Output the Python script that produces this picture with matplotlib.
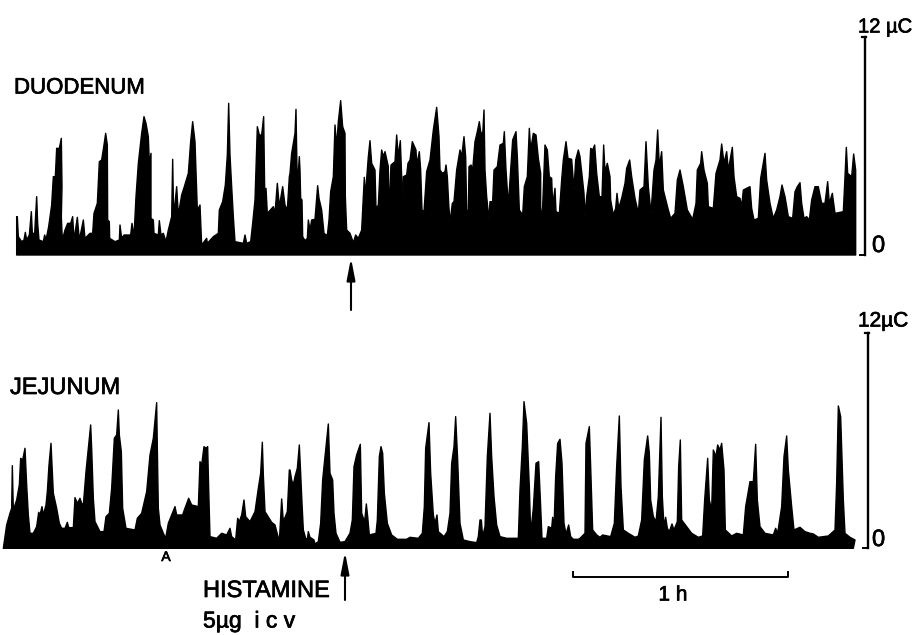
import numpy as np
from matplotlib import pyplot as plt
import matplotlib.patheffects as pe

plt.rcParams['font.family'] = ['Liberation Sans', 'DejaVu Sans']

# Readings off the chart paper: (position, deflection) in chart units.
# 645 position units = 1 h, one list per stretch of paper.
UNITS_PER_HOUR = 645
DUO_UNITS_12UC = 654
JEJ_UNITS_12UC = 645
OFFSET_B = 870
OFFSET_C = 1740

duo_a = [(50,0),(50,115),(52,115),(55,55),(65,40),(72,45),(76,68),(80,45),(88,60),(94,130),(97,65),(104,65),
         (110,175),(113,95),(117,45),(130,40),(134,60),(138,45),(146,85),(155,150),(160,235),(166,235),(170,320),
         (178,320),(184,350),(186,205),(184,115),(187,45),(195,75),(203,95),(212,95),(218,115),(222,45),(232,113),
         (238,45),(250,105),(255,50),(270,65),(278,65),(282,125),(292,155),(298,280),(305,285),(312,330),(317,365),
         (322,330),(323,105),(328,100),(329,50),(345,40),(358,45),(360,90),(365,50),(372,60),(392,60),(396,95),
         (402,55),(408,175),(415,275),(425,365),(432,415),(438,395),(445,355),(448,275),(453,305),(453,110),
         (460,105),(462,65),(475,60),(478,103),(483,60),(490,65),(498,40),(505,75),(515,115),(518,287),(521,115),
         (530,205),(535,120),(545,180),(553,205),(565,245),(572,340),(578,400),(585,340),(592,135),(600,150),
         (605,30),(620,50),(622,35),(640,55),(655,65),(658,135),(668,160),(676,210),(682,300),(686,455),(690,300),
         (695,205),(700,115),(705,40),(730,35),(735,60),(740,35),(752,40),(758,95),(765,165),(772,385),(778,360),
         (785,360),(791,415),(795,125),(798,200),(802,125),(820,145),(825,125),(832,215),(838,145),(848,205),
         (855,150),(862,135),(868,235)]
duo_b = [(0,245),(5,305),(15,365),(18,437),(20,315),(22,205),(28,295),(30,255),(32,170),(36,165),(38,55),(45,43),
         (52,50),(55,105),(60,75),(65,105),(75,107),(83,208),(87,170),(95,135),(102,65),(112,58),(117,105),(122,190),
         (130,235),(135,390),(140,325),(145,400),(152,463),(158,385),(165,365),(166,175),(170,75),(180,65),(190,37),
         (197,60),(205,50),(215,75),(220,175),(223,233),(226,175),(235,295),(240,343),(245,275),(255,255),(258,140),
         (265,150),(270,255),(275,315),(280,295),(285,310),(295,265),(295,115),(303,270),(315,280),(320,360),(325,295),
         (331,343),(335,235),(338,105),(340,235),(350,240),(354,275),(360,285),(367,340),(378,315),(380,270),(388,310),
         (392,255),(396,135),(402,130),(405,175),(410,250),(420,285),(430,375),(440,443),(447,355),(450,255),(457,245),
         (465,250),(468,270),(472,235),(476,155),(480,97),(487,155),(492,160),(500,255),(510,315),(515,295),(522,355),
         (527,295),(530,135),(535,130),(537,265),(543,270),(548,255),(555,340),(562,370),(568,400),(572,370),(578,360),
         (582,435),(585,255),(590,175),(597,105),(600,160),(608,160),(612,255),(622,265),(630,330),(640,335),(643,370),
         (648,255),(655,150),(660,225),(668,345),(678,370),(682,295),(688,135),(698,120),(703,205),(712,235),(718,380),
         (722,315),(730,365),(738,360),(745,290),(752,245),(752,97),(758,145),(765,330),(772,315),(778,235),(785,230),
         (788,150),(795,200),(798,130),(808,125),(815,225),(820,285),(828,340),(834,290),(845,287),(852,195),(857,285),
         (865,315)]
duo_c = [(0,295),(12,185),(15,115),(20,175),(28,235),(32,320),(38,315),(44,330),(50,245),(58,175),(66,175),(71,330),
         (75,250),(82,275),(90,235),(92,165),(100,120),(107,140),(111,185),(116,140),(125,170),(135,215),(140,260),
         (149,285),(155,235),(165,170),(175,125),(180,195),(192,205),(198,340),(205,205),(213,125),(222,255),(228,285),
         (233,375),(238,265),(245,310),(250,195),(265,135),(272,110),(285,125),(292,225),(300,255),(310,205),(322,135),
         (338,107),(348,155),(352,255),(362,275),(365,310),(372,255),(382,215),(385,145),(400,140),(408,245),(420,285),
         (425,333),(432,275),(440,310),(445,255),(457,323),(462,235),(470,175),(480,170),(485,145),(490,195),(500,200),
         (510,205),(515,140),(522,105),(535,110),(542,230),(555,305),(560,225),(570,155),(580,110),(590,135),(600,175),
         (606,210),(615,175),(625,115),(638,110),(645,190),(652,205),(660,217),(665,155),(672,110),(680,115),(688,105),
         (695,165),(705,205),(715,205),(725,155),(735,155),(743,220),(748,155),(757,185),(765,125),(790,130),(795,235),
         (799,323),(803,245),(815,235),(821,303),(827,255),(827,0)]

jej_a = [(10,0),(20,70),(30,105),(35,120),(37,248),(40,115),(50,145),(58,190),(62,270),(68,265),(75,300),(80,190),
         (85,100),(90,45),(100,45),(110,65),(116,108),(120,100),(126,125),(130,100),(138,130),(142,170),(147,250),
         (153,315),(156,250),(160,165),(170,120),(178,75),(185,60),(195,60),(202,78),(206,62),(220,62),(225,152),
         (232,135),(240,150),(245,135),(250,130),(258,230),(265,300),(272,370),(275,300),(280,150),(285,80),(300,50),
         (312,50),(318,95),(328,105),(335,180),(343,330),(350,340),(355,415),(358,340),(364,290),(368,120),(378,60),
         (405,55),(412,90),(425,105),(440,170),(450,280),(460,330),(470,437),(472,300),(475,120),(480,70),(490,45),
         (497,30),(505,75),(515,100),(525,125),(530,100),(548,100),(553,115),(566,150),(575,130),(595,125),(600,260),
         (605,250),(612,305),(618,300),(623,305),(626,180),(630,35),(650,30),(665,45),(680,40),(690,60),(695,35),
         (707,25),(713,90),(718,80),(725,100),(732,145),(737,95),(750,80),(765,110),(775,180),(782,225),(787,318),
         (790,220),(795,110),(815,78),(825,70),(838,20),(845,148),(850,80),(862,110),(868,235)]
jej_b = [(0,235),(5,205),(10,190),(15,215),(22,240),(28,310),(32,225),(36,135),(40,55),(47,30),(52,27),(55,50),(60,33),
         (72,25),(75,13),(85,20),(92,75),(98,205),(105,275),(115,373),(120,225),(128,205),(132,105),(138,45),(150,18),
         (165,20),(180,45),(187,85),(192,245),(200,280),(211,312),(215,105),(224,80),(229,133),(233,95),(238,40),(258,45),
         (262,85),(268,275),(273,305),(278,285),(283,165),(292,75),(305,40),(322,27),(350,27),(360,33),(385,30),(397,45),
         (403,125),(407,300),(417,377),(422,225),(430,100),(435,75),(441,100),(445,50),(462,35),(472,50),(480,105),(485,255),
         (492,305),(497,395),(503,265),(510,75),(520,25),(540,20),(560,17),(565,35),(570,85),(574,85),(578,35),(585,65),
         (592,275),(600,405),(605,275),(612,155),(620,70),(630,35),(650,30),(685,30),(690,175),(697,305),(702,440),(710,375),
         (718,185),(722,45),(730,120),(738,255),(746,260),(752,125),(756,30),(770,30),(775,65),(785,60),(788,93),(792,60),
         (797,215),(803,315),(810,327),(816,255),(822,75),(828,43),(836,70),(842,35),(850,27),(865,27)]
jej_c = [(0,30),(15,45),(18,315),(28,365),(32,245),(38,55),(50,40),(60,33),(68,40),(92,35),(103,75),(110,245),(118,397),
         (123,185),(130,55),(145,45),(165,33),(175,37),(185,85),(193,265),(203,337),(208,285),(212,145),(220,95),(228,80),
         (235,155),(243,393),(247,155),(252,65),(257,93),(262,60),(268,50),(276,73),(282,55),(292,80),(296,245),(301,325),
         (305,85),(320,65),(335,45),(355,33),(368,37),(374,145),(383,270),(388,145),(395,115),(400,295),(408,275),(413,310),
         (420,295),(425,315),(432,235),(436,55),(455,37),(470,45),(490,40),(497,125),(510,200),(520,200),(527,312),(532,145),
         (540,65),(555,45),(580,40),(587,60),(593,45),(605,125),(612,275),(620,337),(625,235),(635,125),(642,55),(660,63),
         (675,50),(690,45),(700,43),(715,33),(745,37),(765,55),(770,195),(775,427),(782,395),(790,145),(795,45),(810,33),
         (825,25),(820,0)]


def join_readings(a, b, c, units_12uc):
    """Join the three stretches, return hours and microcoulombs."""
    pos = [p for p, _ in a] + [p + OFFSET_B for p, _ in b] + [p + OFFSET_C for p, _ in c]
    val = [v for _, v in a] + [v for _, v in b] + [v for _, v in c]
    return np.array(pos) / UNITS_PER_HOUR, np.array(val) * 12.0 / units_12uc


W, H = 913, 635
fig = plt.figure(figsize=(W / 100, H / 100), dpi=100, facecolor='white')

# Pixel coordinate layer for labels, arrows and the time bar
notes = fig.add_axes([0, 0, 1, 1])
notes.set_xlim(0, W)
notes.set_ylim(H, 0)
notes.axis('off')

xlim = (0, W * 3 / UNITS_PER_HOUR)

ax_duo = fig.add_axes([0, (H - 255) / H, 1, 218 / H])
ax_jej = fig.add_axes([0, (H - 548.3) / H, 1, 215 / H])

traces = [(ax_duo, join_readings(duo_a, duo_b, duo_c, DUO_UNITS_12UC), 865),
          (ax_jej, join_readings(jej_a, jej_b, jej_c, JEJ_UNITS_12UC), 868)]

for ax, (hours, charge), bar_px in traces:
    ax.fill(hours, charge, color='black', linewidth=1.0, joinstyle='round', clip_on=False)
    ax.set_xlim(xlim)
    ax.set_ylim(0, 12)
    ax.axis('off')
    ax.patch.set_alpha(0)
    # 0-12 uC calibration bar
    tr = ax.get_yaxis_transform()
    bar_x = bar_px / W
    ax.plot([bar_x, bar_x], [0, 12], transform=tr, color='black', lw=1.7, clip_on=False)
    ax.plot([bar_x - 5 / W, bar_x], [0, 0], transform=tr, color='black', lw=1.4, clip_on=False)
    ax.plot([bar_x - 3 / W, bar_x + 1 / W], [12, 12], transform=tr, color='black', lw=1.6, clip_on=False)

# Labels, thickened a little like the lettering on the original plate
heavy = [pe.withStroke(linewidth=0.5, foreground='black')]
labels = [(14, 88, "DUODENUM", 16, 'left'),
          (10, 388, "JEJUNUM", 17, 'left'),
          (858, 27, "12 \u00b5C", 14.5, 'left'),
          (858, 321, "12\u00b5C", 15, 'left'),
          (872, 246, "0", 17, 'left'),
          (872, 540, "0", 17, 'left'),
          (166, 557, "A", 10, 'center'),
          (203, 591, "HISTAMINE", 17, 'left'),
          (203, 621, "5\u00b5g  i c v", 16.5, 'left'),
          (673, 595, "1 h", 15, 'center')]
for x, y, label, size, align in labels:
    notes.text(x, y, label, fontsize=size, va='center', ha=align, path_effects=heavy)

# Injection arrows
for arrow_x, tip, tail in [(351, 258, 310), (345, 552, 600)]:
    notes.annotate("", xy=(arrow_x, tip), xytext=(arrow_x, tail),
                   arrowprops=dict(arrowstyle='-|>,head_width=0.25,head_length=1.3', color='black', lw=1.5,
                                   mutation_scale=10, shrinkA=0, shrinkB=0))

# 1 h time bar
notes.plot([573, 573, 788, 788], [572, 577, 577, 572], color='black', lw=1.4)

fig.savefig('out.png', dpi=100, facecolor='white')
